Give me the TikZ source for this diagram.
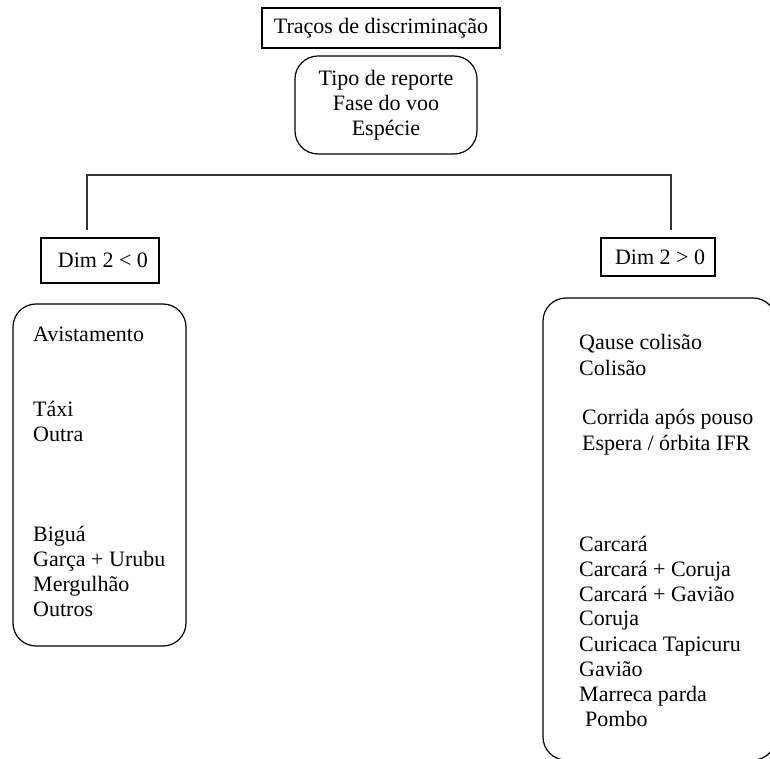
\documentclass[tikz,border=0pt]{standalone}
\usepackage{fontspec}
\setmainfont{Liberation Serif}
\begin{document}
\begin{tikzpicture}[x=1pt,y=-1pt,
  every node/.style={font=\fontsize{22}{25}\selectfont, inner sep=0pt},
  sqbox/.style={draw=black, line width=1.2pt},
  rbox/.style={draw=black, line width=1.2pt, rounded corners=23pt},
  item/.style={anchor=base west},
  link/.style={draw=black!80, line width=1.4pt}]
\useasboundingbox (0,0) rectangle (770,759);
\clip (0,0) rectangle (770,759);
% top boxes
\node[sqbox, minimum width=238pt, minimum height=40pt] (title) at (381,28) {Traços de discriminação};
\node[rbox, minimum width=182pt, minimum height=98pt, align=center] (crit) at (386,105)
  {Tipo de reporte\\Fase do voo\\Espécie};
% branch
\coordinate (bl) at (87,230);
\coordinate (tl) at (87,175);
\coordinate (tr) at (671,175);
\coordinate (br) at (671,230);
\draw[link] (bl) -- (tl) -- (tr) -- (br);
% dim boxes
\node[sqbox, minimum width=118pt, minimum height=45pt] (dimneg) at (100,260.5) {\hspace*{6pt}Dim 2 < 0};
\node[sqbox, minimum width=114pt, minimum height=38pt] (dimpos) at (658,257) {\hspace*{4pt}Dim 2 > 0};
% big boxes
\node[rbox, minimum width=173pt, minimum height=342pt] (negbox) at (99.5,475) {};
\node[rbox, minimum width=233pt, minimum height=462pt] (posbox) at (659.5,529) {};
% left items
\node[item] (n1) at (33,341) {Avistamento};
\node[item] (n2) at (33,416) {Táxi};
\node[item] (n3) at (33,441) {Outra};
\node[item] (n4) at (33,541) {Biguá};
\node[item] (n5) at (33,566) {Garça + Urubu};
\node[item] (n6) at (33,591) {Mergulhão};
\node[item] (n7) at (33,616) {Outros};
% right items
\node[item] (p1) at (579,349) {Qause colisão};
\node[item] (p2) at (579,375) {Colisão};
\node[item] (p3) at (582,424) {Corrida após pouso};
\node[item] (p4) at (582,450) {Espera / órbita IFR};
\node[item] (p5) at (579,551) {Carcará};
\node[item] (p6) at (579,576) {Carcará + Coruja};
\node[item] (p7) at (579,601) {Carcará + Gavião};
\node[item] (p8) at (579,625) {Coruja};
\node[item] (p9) at (579,651) {Curicaca Tapicuru};
\node[item] (p10) at (579,676) {Gavião};
\node[item] (p11) at (579,701) {Marreca parda};
\node[item] (p12) at (585,726) {Pombo};
\end{tikzpicture}
\end{document}
